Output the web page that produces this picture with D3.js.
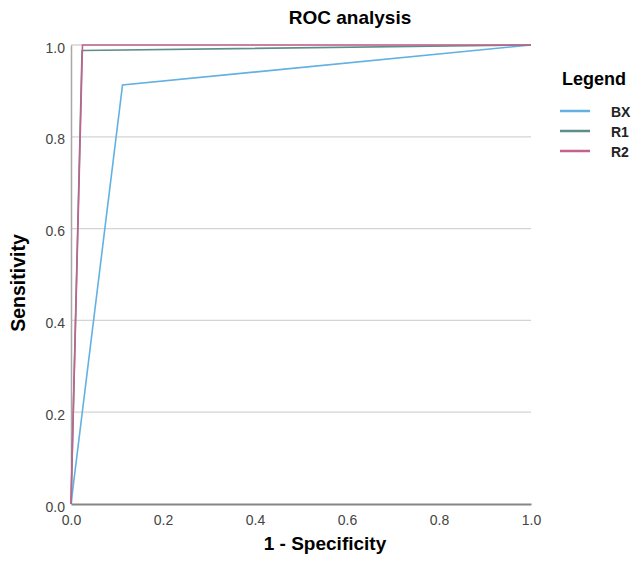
<!DOCTYPE html>
<html>
<head>
<meta charset="utf-8">
<script src="https://cdn.jsdelivr.net/npm/d3@7"></script>
<style>
  body { margin: 0; background: #fff; }
  text { font-family: "Liberation Sans", Arial, sans-serif; }
</style>
</head>
<body>
<div id="chart"></div>
<script>
// series: points of each ROC curve (1 - specificity, sensitivity)
var seriesNames = ["BX", "R1", "R2"];
var seriesColors = ["#62b1e2", "#5c8f89", "#c2628d"];
var bxPoints = [[0, 0], [0.112, 0.913], [1, 1]];
var r1Points = [[0, 0], [0.024, 0.988], [1, 1]];
var r2Points = [[0, 0], [0.025, 1.0], [1, 1]];
var tickValues = [0, 0.2, 0.4, 0.6, 0.8, 1.0];

function main() {
    var width = 632, height = 564;
    var margin = { top: 45, left: 71, right: 101, bottom: 60 };

    var svg = d3.select("#chart")
    .append("svg")
    .attr("width", width)
    .attr("height", height);

    var x = d3.scaleLinear().domain([0, 1]).range([margin.left, width - margin.right]);
    var y = d3.scaleLinear().domain([0, 1]).range([height - margin.bottom, margin.top]);

    // horizontal grid lines
    svg.selectAll(".grid")
    .data(tickValues.slice(1))
    .enter().append("line")
    .attr("class", "grid")
    .attr("x1", x(0))
    .attr("x2", x(1))
    .attr("y1", d => y(d))
    .attr("y2", d => y(d))
    .attr("stroke", "#d4d4d4")
    .attr("stroke-width", 1.3);

    // axes
    var xAxis = svg.append("g")
    .attr("transform", "translate(0," + y(0) + ")")
    .call(d3.axisBottom(x).tickValues(tickValues).tickFormat(d3.format(".1f")).tickSize(0).tickPadding(11));

    var yAxis = svg.append("g")
    .attr("transform", "translate(" + x(0) + ",0)")
    .call(d3.axisLeft(y).tickValues(tickValues).tickFormat(d3.format(".1f")).tickSize(0).tickPadding(6));

    xAxis.select(".domain").attr("stroke", "#858585").attr("stroke-width", 2);
    yAxis.select(".domain").attr("stroke", "#a8a8a8").attr("stroke-width", 1.5);
    yAxis.selectAll("text").attr("dy", "0.5em");
    [xAxis, yAxis].forEach(function(a) {
        a.selectAll("text").attr("fill", "#444").style("font-size", "14px");
    });

    // curves
    var line = d3.line().x(d => x(d[0])).y(d => y(d[1]));
    var allSeries = [bxPoints, r1Points, r2Points];

    svg.selectAll(".roc")
    .data(allSeries)
    .enter().append("path")
    .attr("class", "roc")
    .attr("d", line)
    .attr("fill", "none")
    .attr("stroke", (d, i) => seriesColors[i])
    .attr("stroke-width", 1.6);

    // title and axis labels
    svg.append("text")
    .attr("x", 350).attr("y", 24)
    .attr("text-anchor", "middle")
    .style("font-size", "19px").style("font-weight", "bold")
    .text("ROC analysis");

    svg.append("text")
    .attr("x", 325).attr("y", 550)
    .attr("text-anchor", "middle")
    .style("font-size", "19px").style("font-weight", "bold")
    .text("1 - Specificity");

    svg.append("text")
    .attr("transform", "translate(25,283) rotate(-90)")
    .attr("text-anchor", "middle")
    .style("font-size", "19.5px").style("font-weight", "bold")
    .text("Sensitivity");

    // legend
    var legend = svg.append("g").attr("transform", "translate(560,0)");
    legend.append("text")
    .attr("x", 2).attr("y", 85)
    .style("font-size", "18px").style("font-weight", "bold")
    .text("Legend");

    var items = legend.selectAll(".item")
    .data(seriesNames)
    .enter().append("g")
    .attr("class", "item")
    .attr("transform", (d, i) => "translate(0," + (111 + i * 20) + ")");

    items.append("line")
    .attr("x1", 0).attr("x2", 30)
    .attr("stroke", (d, i) => seriesColors[i])
    .attr("stroke-width", 2.5);

    items.append("text")
    .attr("x", 51).attr("y", 5.5)
    .style("font-size", "14px").style("font-weight", "bold")
    .attr("fill", "#222")
    .text(d => d);
}

main();
</script>
</body>
</html>
